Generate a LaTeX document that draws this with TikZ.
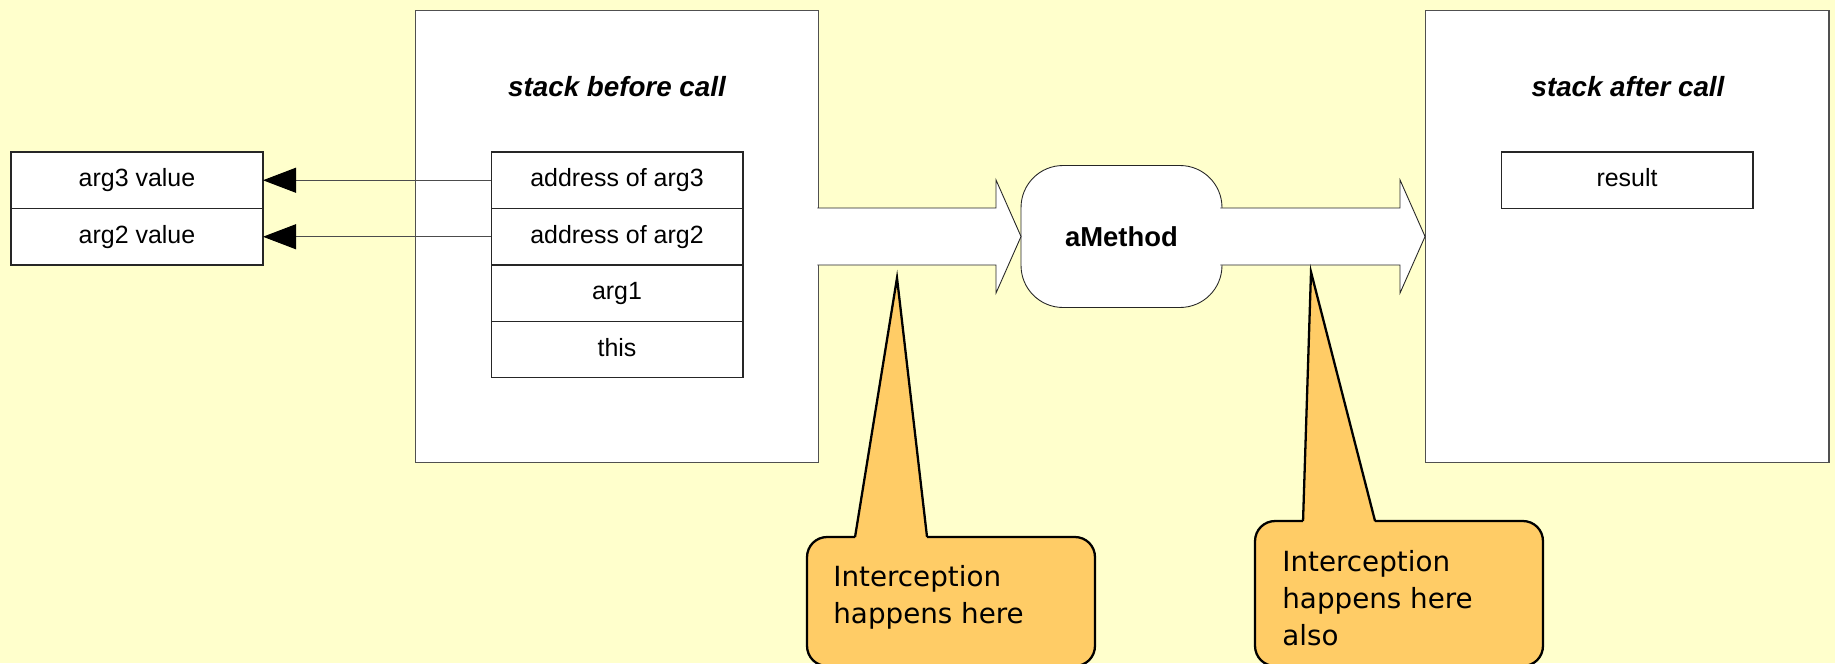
\documentclass[tikz,border=0pt]{standalone}
\usepackage{fontspec}
\setmainfont{Liberation Sans}
\newfontfamily\notefont{DejaVu Sans}
\usepackage{xcolor}
\usetikzlibrary{positioning, arrows.meta, calc}

\definecolor{bgyellow}{HTML}{FFFFCC}
\definecolor{noteorange}{HTML}{FFCC66}
\definecolor{edgegray}{HTML}{505050}

\begin{document}
\begin{tikzpicture}[x=0.02cm, y=-0.02cm,
  cell/.style={draw=black!85, fill=white, line width=0.6pt, minimum width=5.04cm,
    minimum height=1.13cm, inner sep=0pt, outer sep=0pt,
    font=\fontsize{14.2}{17}\selectfont, text height=0.72em, text depth=0pt},
  frame/.style={draw=edgegray, fill=white, line width=0.6pt, minimum width=8.08cm,
    minimum height=9.06cm, inner sep=0pt, outer sep=0pt},
  title/.style={font=\fontsize{15.8}{19}\selectfont\bfseries\itshape, anchor=base, inner sep=0pt},
  bigarrow/.style={draw=black!85, fill=white, line width=0.5pt},
  pointer/.style={draw=black!70, line width=0.6pt,
    -{Triangle[length=18.8pt, width=14.2pt, color=black]}},
  note/.style={draw=black, fill=noteorange, line width=1.3pt, rounded corners=0.4cm,
    minimum width=5.76cm, inner sep=0pt, outer sep=0pt},
  notetext/.style={font=\notefont\fontsize{15.8}{21}\selectfont, align=left,
    anchor=north west, inner sep=0pt},
  noteedge/.style={draw=black, line width=1.3pt}
]
  \useasboundingbox (0,0) rectangle (1835,663);
  \clip (0,0) rectangle (1835,663);
  \fill[bgyellow] (0,0) rectangle (1835,663);

  % the two stack frames
  \node[frame] (before) at (617,236.5) {};
  \node[frame] (after) at (1627,236.5) {};
  \node[title] (beforetitle) at (617,96) {stack before call};
  \node[title] (aftertitle) at (1628,96) {stack after call};

  % values on the left
  \node[cell] (arg3val) at (137,180.25) {arg3 value};
  \node[cell, below=0pt of arg3val] (arg2val) {arg2 value};

  % stack before call
  \node[cell] (addr3) at (617,180.25) {address of arg3};
  \node[cell, below=0pt of addr3] (addr2) {address of arg2};
  \node[cell, below=0pt of addr2] (arg1) {arg1};
  \node[cell, below=0pt of arg1] (this) {this};

  % stack after call
  \node[cell] (result) at (1627,180.25) {result};

  \draw[pointer] (addr3.west) -- (arg3val.east);
  \draw[pointer] (addr2.west) -- (arg2val.east);

  % the call
  \node[draw=black!85, fill=white, line width=0.5pt, rounded corners=0.84cm,
        minimum width=4.02cm, minimum height=2.84cm, outer sep=0pt,
        font=\fontsize{15.6}{19}\selectfont\bfseries] (method) at (1121.5,236.5) {aMethod};

  \draw[bigarrow] ($(before.east)+(-1.5,-28.5)$) -- ($(method.west)+(-25,-28.5)$)
      -- ($(method.west)+(-25,-56.5)$) -- (method.west)
      -- ($(method.west)+(-25,56.5)$) -- ($(method.west)+(-25,28.5)$)
      -- ($(before.east)+(-1.5,28.5)$);
  \draw[bigarrow] ($(method.east)+(-1.5,-28.5)$) -- ($(after.west)+(-25,-28.5)$)
      -- ($(after.west)+(-25,-56.5)$) -- (after.west)
      -- ($(after.west)+(-25,56.5)$) -- ($(after.west)+(-25,28.5)$)
      -- ($(method.east)+(-1.5,28.5)$);

  % notes
  \node[note, minimum height=2.58cm] (noteA) at (951,601.5) {};
  \node[note, minimum height=2.9cm] (noteB) at (1399,593.5) {};
  \coordinate (tipA) at (897,278);
  \coordinate (tipB) at (1311,272);

  \fill[noteorange] ($(noteA.north west)+(48,2)$) -- (tipA) -- ($(noteA.north west)+(120,2)$) -- cycle;
  \draw[noteedge] ($(noteA.north west)+(48,0)$) -- (tipA) -- ($(noteA.north west)+(120,0)$);
  \fill[noteorange] ($(noteB.north west)+(48,2)$) -- (tipB) -- ($(noteB.north west)+(120,2)$) -- cycle;
  \draw[noteedge] ($(noteB.north west)+(48,0)$) -- (tipB) -- ($(noteB.north west)+(120,0)$);

  \node[notetext] (noteAtext) at ($(noteA.north west)+(26,28)$) {Interception\\happens here};
  \node[notetext] (noteBtext) at ($(noteB.north west)+(27,29)$) {Interception\\happens here\\also};
\end{tikzpicture}
\end{document}
